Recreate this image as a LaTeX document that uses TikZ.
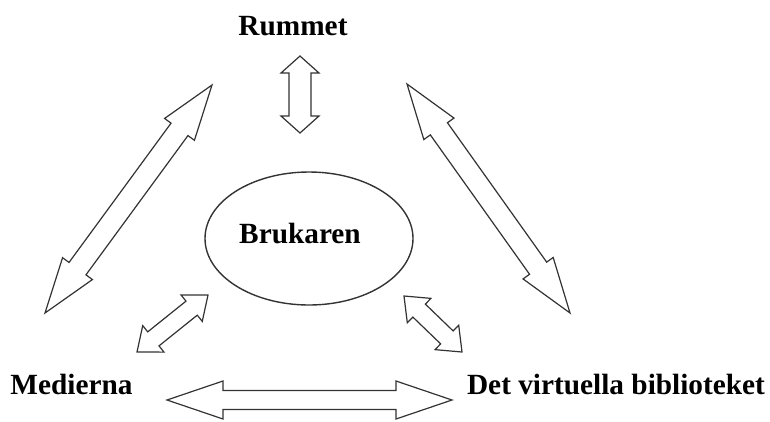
\documentclass[tikz,border=0pt]{standalone}
\usepackage{fontspec}
\setmainfont{Liberation Serif}
\usetikzlibrary{calc}
\tikzset{
  blockarrow/.style={draw=black!80, line width=1.2pt, fill=white, line join=miter},
  lbl/.style={font=\bfseries\fontsize{29.3}{30}\selectfont, inner sep=0pt, anchor=base},
  userell/.style={draw=black!80, line width=1.4pt, ellipse, inner sep=0pt, minimum width=208pt, minimum height=133pt}
}
\usetikzlibrary{shapes.geometric}
% #1 start, #2 end, #3 head length, #4 head half width, #5 shaft half width
\newcommand\blockarr[5]{%
 \draw[blockarrow] (#1)
 -- ($(#1)!#3!(#2)!#4!90:(#2)$)
 -- ($(#1)!#3!(#2)!#5!90:(#2)$)
 -- ($(#2)!#3!(#1)!#5!-90:(#1)$)
 -- ($(#2)!#3!(#1)!#4!-90:(#1)$)
 -- (#2)
 -- ($(#2)!#3!(#1)!#4!90:(#1)$)
 -- ($(#2)!#3!(#1)!#5!90:(#1)$)
 -- ($(#1)!#3!(#2)!#5!-90:(#2)$)
 -- ($(#1)!#3!(#2)!#4!-90:(#2)$)
 -- cycle;}
\begin{document}
\begin{tikzpicture}[x=1pt,y=-1pt]
\useasboundingbox (0,0) rectangle (770,421);
% labels
\node[lbl] (rummet) at (293,35) {Rummet};
\node[lbl] (medierna) at (71.5,394) {Medierna};
\node[lbl] (dvb) at (616,394) {Det virtuella biblioteket};
\node[userell] (brukaren) at (309,238.5) {};
\node[lbl] (bruktext) at (300,243) {Brukaren};
% arrow end points
\coordinate (v1) at (300,56);
\coordinate (v2) at (300,133);
\coordinate (l1) at (212,85);
\coordinate (l2) at (45,313);
\coordinate (r1) at (407,84);
\coordinate (r2) at (570,313);
\coordinate (sl1) at (208,295);
\coordinate (sl2) at (137,352);
\coordinate (sr1) at (404,296);
\coordinate (sr2) at (462,352);
\coordinate (h1) at (167,400);
\coordinate (h2) at (452,400);
% arrows
\blockarr{v1}{v2}{17pt}{19pt}{11pt}
\blockarr{l1}{l2}{55pt}{18.5pt}{10.5pt}
\blockarr{r1}{r2}{55pt}{18.5pt}{10.5pt}
\blockarr{sl1}{sl2}{21pt}{17pt}{9pt}
\blockarr{sr1}{sr2}{21pt}{17pt}{9pt}
\blockarr{h1}{h2}{56pt}{19pt}{9.5pt}
\end{tikzpicture}
\end{document}
